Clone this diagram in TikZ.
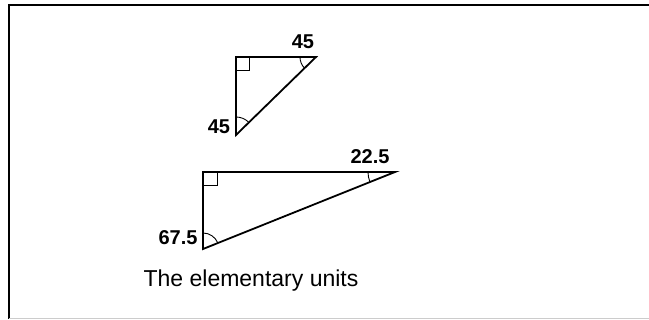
\documentclass[tikz,border=0pt]{standalone}
\usepackage{fontspec}
\setmainfont{Liberation Sans}
\usetikzlibrary{angles}
\tikzset{
  tri/.style={line width=1.8pt, line join=miter},
  anglemark/.style={line width=0.9pt},
  anglab/.style={font=\fontsize{20}{20}\selectfont\bfseries, inner sep=0pt},
  frameline/.style={line width=1.2pt}
}
\begin{document}
\begin{tikzpicture}[x=1pt,y=1pt]
\useasboundingbox (0,0) rectangle (649,320);
% frame
\coordinate (f1) at (9,1);
\coordinate (f2) at (9,315);
\coordinate (f3) at (649,315);
\coordinate (f4) at (649,1);
\draw[frameline] (f1) -- (f2) -- (f3);
\draw[line width=1pt, gray!40] (f1) -- (f4);
% small triangle
\coordinate (A) at (236,263);
\coordinate (B) at (316,263);
\coordinate (C) at (236,185);
\draw[tri] (A) -- (B) -- (C) -- cycle;
\draw[anglemark] ([yshift=-13pt]A) -| ([xshift=13pt]A);
\pic[draw, anglemark, angle radius=16pt] {angle = A--B--C};
\pic[draw, anglemark, angle radius=18pt] {angle = B--C--A};
\node[anglab] (l1) at (303,278) {45};
\node[anglab] (l2) at (219,193) {45};
% large triangle
\coordinate (D) at (203,148);
\coordinate (E) at (395,148);
\coordinate (F) at (203,71);
\draw[tri] (D) -- (E) -- (F) -- cycle;
\draw[anglemark] ([yshift=-13pt]D) -| ([xshift=14pt]D);
\pic[draw, anglemark, angle radius=27pt] {angle = D--E--F};
\pic[draw, anglemark, angle radius=16pt] {angle = E--F--D};
\node[anglab] (l3) at (370,163) {22.5};
\node[anglab] (l4) at (178,82) {67.5};
% caption
\node[font=\fontsize{23}{23}\selectfont, anchor=base, inner sep=0pt] (cap) at (251,33) {The elementary units};
\end{tikzpicture}
\end{document}
